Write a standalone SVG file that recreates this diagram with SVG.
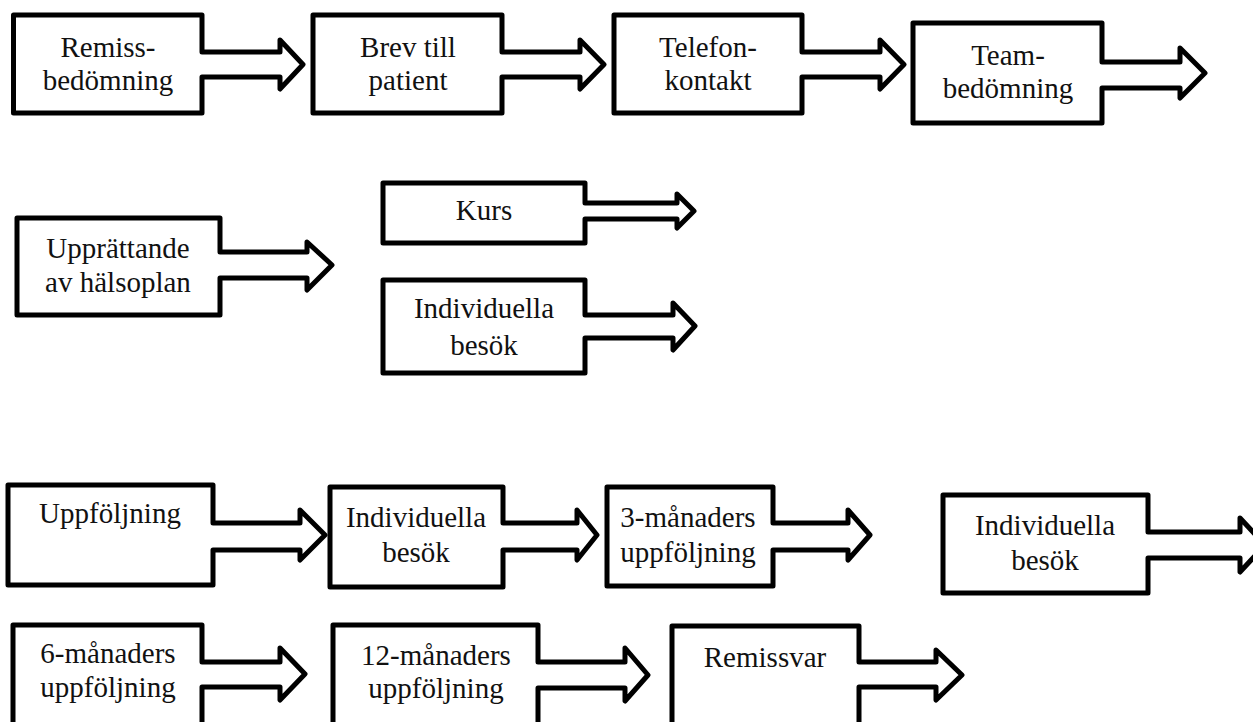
<svg xmlns="http://www.w3.org/2000/svg" width="1253" height="722" viewBox="0 0 1253 722">
<style>
.shape{fill:#ffffff;stroke:#000000;stroke-width:5;stroke-linejoin:round}
.lbl{font-size:29px;fill:#111111;text-anchor:middle}
</style>
<rect width="1253" height="722" fill="#ffffff"/>
<g id="connectors"></g>
<g font-family="Liberation Serif, DejaVu Serif, serif">
<g id="n1"><path class="shape" d="M13.5,15 H202 V52 H280 V40 L303,64.5 L280,89 V77 H202 V113 H13.5 Z"/><text class="lbl" x="108" y="57">Remiss-</text><text class="lbl" x="108" y="90">bedömning</text></g>
<g id="n2"><path class="shape" d="M313,15 H502 V52 H580 V40 L604,64.5 L580,89 V77 H502 V113 H313 Z"/><text class="lbl" x="408" y="57">Brev till</text><text class="lbl" x="408" y="90">patient</text></g>
<g id="n3"><path class="shape" d="M614,15 H802 V52 H880 V40 L904,64.5 L880,89 V77 H802 V113 H614 Z"/><text class="lbl" x="708" y="57">Telefon-</text><text class="lbl" x="708" y="90">kontakt</text></g>
<g id="n4"><path class="shape" d="M913,23 H1102 V62 H1180 V48 L1205,73 L1180,98 V88 H1102 V123 H913 Z"/><text class="lbl" x="1008" y="65">Team-</text><text class="lbl" x="1008" y="98">bedömning</text></g>
<g id="n5"><path class="shape" d="M17,218 H220 V252 H307 V242 L332,265 L307,290 V278 H220 V315 H17 Z"/><text class="lbl" x="118" y="258">Upprättande</text><text class="lbl" x="118" y="292">av hälsoplan</text></g>
<g id="n6"><path class="shape" d="M383,183 H585 V203 H677 V194 L694,211 L677,228 V219 H585 V243 H383 Z"/><text class="lbl" x="484" y="220">Kurs</text></g>
<g id="n7"><path class="shape" d="M383,280 H585 V315 H673 V303 L695,326 L673,350 V338 H585 V373 H383 Z"/><text class="lbl" x="484" y="318">Individuella</text><text class="lbl" x="484" y="355">besök</text></g>
<g id="n8"><path class="shape" d="M8,485 H213 V523 H300 V510 L325,535 L300,560 V550 H213 V585 H8 Z"/><text class="lbl" x="110" y="523">Uppföljning</text></g>
<g id="n9"><path class="shape" d="M330,487 H503 V523 H577 V510 L597,535 L577,560 V550 H503 V587 H330 Z"/><text class="lbl" x="416" y="527">Individuella</text><text class="lbl" x="416" y="562">besök</text></g>
<g id="n10"><path class="shape" d="M607,487 H773 V523 H848 V510 L870,535 L848,560 V550 H773 V586 H607 Z"/><text class="lbl" x="688" y="527">3-månaders</text><text class="lbl" x="688" y="562">uppföljning</text></g>
<g id="n11"><path class="shape" d="M943,495 H1148 V532 H1240 V518 L1265,545 L1240,572 V558 H1148 V593 H943 Z"/><text class="lbl" x="1045" y="535">Individuella</text><text class="lbl" x="1045" y="570">besök</text></g>
<g id="n12"><path class="shape" d="M13,625 H202 V662 H280 V648 L305,674 L280,700 V687 H202 V735 H13 Z"/><text class="lbl" x="108" y="663">6-månaders</text><text class="lbl" x="108" y="697">uppföljning</text></g>
<g id="n13"><path class="shape" d="M333,625 H538 V662 H625 V648 L648,675 L625,701 V688 H538 V735 H333 Z"/><text class="lbl" x="436" y="665">12-månaders</text><text class="lbl" x="436" y="698">uppföljning</text></g>
<g id="n14"><path class="shape" d="M672,626 H859 V662 H936 V650 L962,675 L936,700 V687 H859 V735 H672 Z"/><text class="lbl" x="765" y="667">Remissvar</text></g>
</g>
</svg>
